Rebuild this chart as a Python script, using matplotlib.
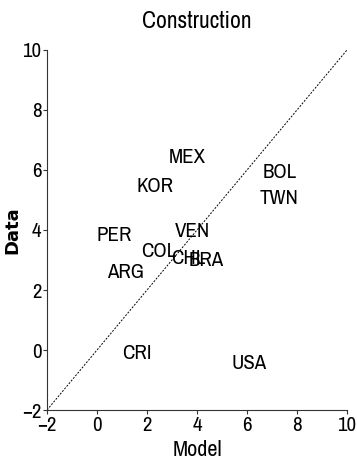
import matplotlib
matplotlib.use("Agg")
import matplotlib.pyplot as plt
from matplotlib import font_manager

countries = ["MEX", "KOR", "BOL", "TWN", "PER", "VEN", "COL", "CHL", "BRA", "ARG", "CRI", "USA"]
model = [3.6, 2.3, 7.3, 7.3, 0.7, 3.8, 2.45, 3.65, 4.35, 1.15, 1.6, 6.1]
data = [6.4, 5.45, 5.9, 5.05, 3.8, 3.95, 3.3, 3.05, 3.0, 2.6, -0.1, -0.45]

ticks = [-2, 0, 2, 4, 6, 8, 10]

# look for a narrow sans font, else fall back to Liberation Sans
narrow = None
for f in font_manager.fontManager.ttflist:
    if "Narrow" in f.name or "Condensed" in f.name:
        narrow = f.name
        break
fam = [narrow, "Liberation Sans", "DejaVu Sans"] if narrow else ["Liberation Sans", "DejaVu Sans"]
plt.rcParams['font.family'] = fam
lab_size = 15 if narrow else 12

fig = plt.figure(figsize=(3.57, 4.67), dpi=100)
ax = fig.add_axes([0.1317, 0.122, 0.8403, 0.771])

# 45 degree line
ax.plot([-2, 10], [-2, 10], color="black", linestyle=(0, (2, 1.5)), linewidth=0.7)

for name, x, y in zip(countries, model, data):
    ax.text(x, y, name, ha="center", va="center", fontsize=lab_size)

ax.set_xlim(-2, 10)
ax.set_ylim(-2, 10)
ax.set_xticks(ticks)
ax.set_yticks(ticks)
ax.tick_params(labelsize=lab_size, length=3, width=0.8, color="#333333", pad=1)
for side in ["top", "right"]:
    ax.spines[side].set_visible(False)
for side in ["left", "bottom"]:
    ax.spines[side].set_color("#333333")
    ax.spines[side].set_linewidth(0.8)

ax.set_title("Construction", fontsize=lab_size + 2, pad=16)
ax.set_xlabel("Model", fontsize=lab_size + 1, labelpad=4)
ax.set_ylabel("Data", fontsize=13, fontweight="bold", family="DejaVu Sans")
ax.yaxis.set_label_coords(-0.085, 0.5)

fig.savefig("out.png", dpi=100)
